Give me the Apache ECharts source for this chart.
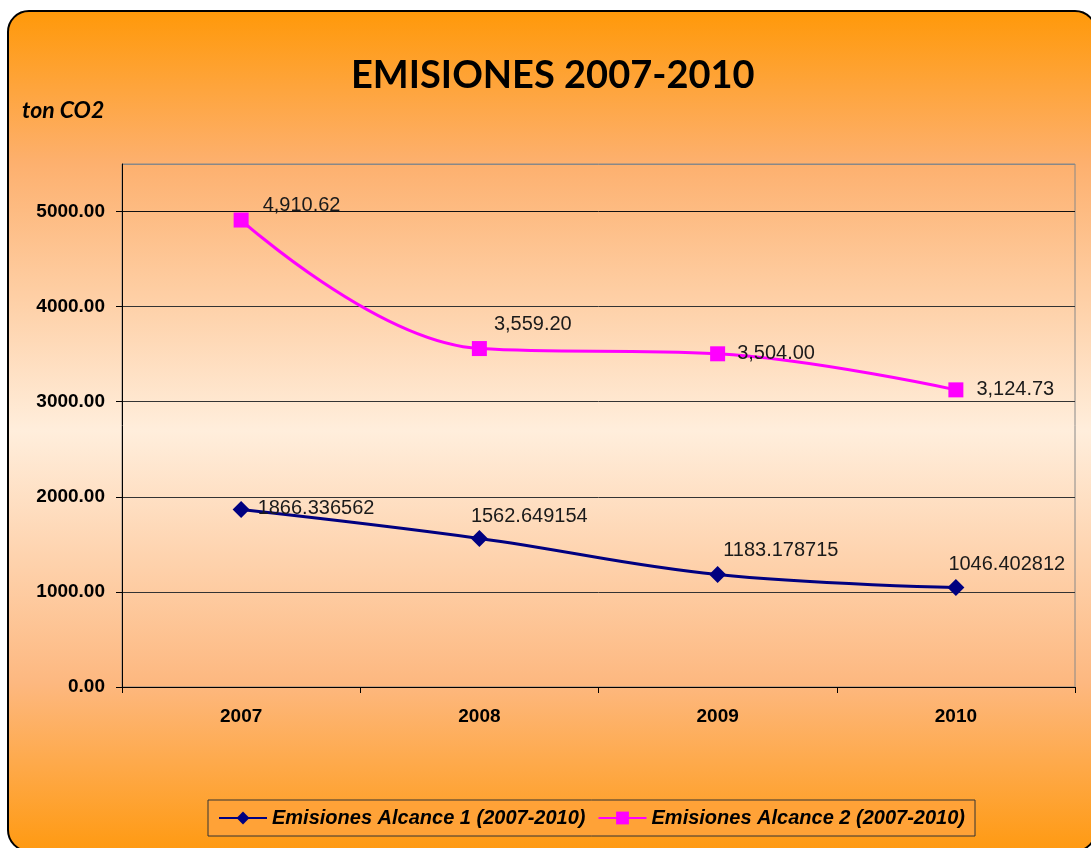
<!DOCTYPE html>
<html>
<head>
<meta charset="utf-8">
<script src="https://cdn.jsdelivr.net/npm/echarts@6/dist/echarts.min.js"></script>
<style>
html, body { margin: 0; padding: 0; background: #fff; overflow: hidden; }
#box {
  position: absolute; left: 7px; top: 10px; width: 1090px; height: 842px;
  box-sizing: border-box; border: 2px solid #000; border-radius: 22px;
  background: linear-gradient(to bottom, #ff990a 0%, #fdb06e 18%, #ffeedc 50%, #fdb880 80%, #ff9a12 100%);
}
#container { position: absolute; left: 0; top: 0; width: 1091px; height: 848px; }
</style>
</head>
<body>
<div id="box"></div>
<div id="container"></div>
<script>
var years = ['2007', '2008', '2009', '2010'];
var alcance1 = [1866.336562, 1562.649154, 1183.178715, 1046.402812];
var alcance2 = [4910.62, 3559.20, 3504.00, 3124.73];
var name1 = 'Emisiones Alcance 1 (2007-2010)';
var name2 = 'Emisiones Alcance 2 (2007-2010)';

var chart = echarts.init(document.getElementById('container'));
var arial = '"Liberation Sans", Arial, sans-serif';

// desplazamiento de las etiquetas de datos
var off1 = [[3, -1], [-22, -22], [-8, -24], [-21, -23]];
var off2 = [[9, -15], [2, -24], [7, 0], [8, 0]];

function fmt2(v) {
  return v.toFixed(2).replace(/\B(?=(\d{3})+(?!\d))/g, ',');
}

var option = {
  backgroundColor: 'transparent',
  title: {
    text: 'EMISIONES 2007-2010',
    left: 346,
    top: 52,
    textStyle: { fontFamily: 'Lato', fontWeight: 'bold', fontSize: 38, color: '#000' }
  },
  graphic: [{
    type: 'text', left: 22, top: 99,
    style: { text: 'ton CO2', fontFamily: 'Lato', fontStyle: 'italic', fontWeight: 'bold', fontSize: 23, fill: '#000' }
  }],
  legend: {
    data: [name1, name2],
    left: 208, top: 800,
    padding: [8, 10],
    itemGap: 12,
    itemWidth: 48,
    itemHeight: 16,
    backgroundColor: '#ffa237',
    borderColor: '#333',
    borderWidth: 1,
    textStyle: { fontFamily: arial, fontStyle: 'italic', fontWeight: 'bold', fontSize: 20, color: '#000' }
  },
  grid: {
    left: 122, right: 16, top: 164, bottom: 161,
    show: true, borderColor: '#888', borderWidth: 1, backgroundColor: 'transparent'
  },
  xAxis: {
    type: 'category',
    data: years,
    boundaryGap: true,
    axisLine: { lineStyle: { color: '#000', width: 1 } },
    axisTick: { show: true, length: 6, lineStyle: { color: '#000' } },
    axisLabel: { margin: 20, fontFamily: arial, fontWeight: 'bold', fontSize: 19, color: '#000' }
  },
  yAxis: {
    type: 'value',
    min: 0, max: 5500, interval: 1000,
    axisLine: { show: true, lineStyle: { color: '#000', width: 1 } },
    axisTick: { show: true, length: 6, lineStyle: { color: '#000' } },
    axisLabel: {
      margin: 17, showMaxLabel: false,
      fontFamily: arial, fontWeight: 'bold', fontSize: 19, color: '#000',
      formatter: function (v) { return v.toFixed(2); }
    },
    splitLine: { lineStyle: { color: ['#333', '#333', '#333', '#333', '#333', '#111', '#888'], width: 1 } }
  },
  series: [{
    name: name1,
    type: 'line',
    smooth: 0.4,
    symbol: 'diamond',
    symbolSize: 17,
    color: '#000080',
    lineStyle: { width: 3, color: '#000080' },
    data: alcance1.map(function (v, i) {
      return { value: v, label: { offset: off1[i] } };
    }),
    label: {
      show: true, position: 'right', distance: 5,
      fontFamily: arial, fontSize: 20, color: '#1a1a1a',
      formatter: function (p) { return String(p.value); }
    },
    z: 3
  }, {
    name: name2,
    type: 'line',
    smooth: 0.4,
    symbol: 'rect',
    symbolSize: 15,
    color: '#ff00ff',
    lineStyle: { width: 3, color: '#ff00ff' },
    data: alcance2.map(function (v, i) {
      return { value: v, label: { offset: off2[i] } };
    }),
    label: {
      show: true, position: 'right', distance: 5,
      fontFamily: arial, fontSize: 20, color: '#1a1a1a',
      formatter: function (p) { return fmt2(p.value); }
    },
    z: 3
  }]
};

chart.setOption(option);
</script>
</body>
</html>
